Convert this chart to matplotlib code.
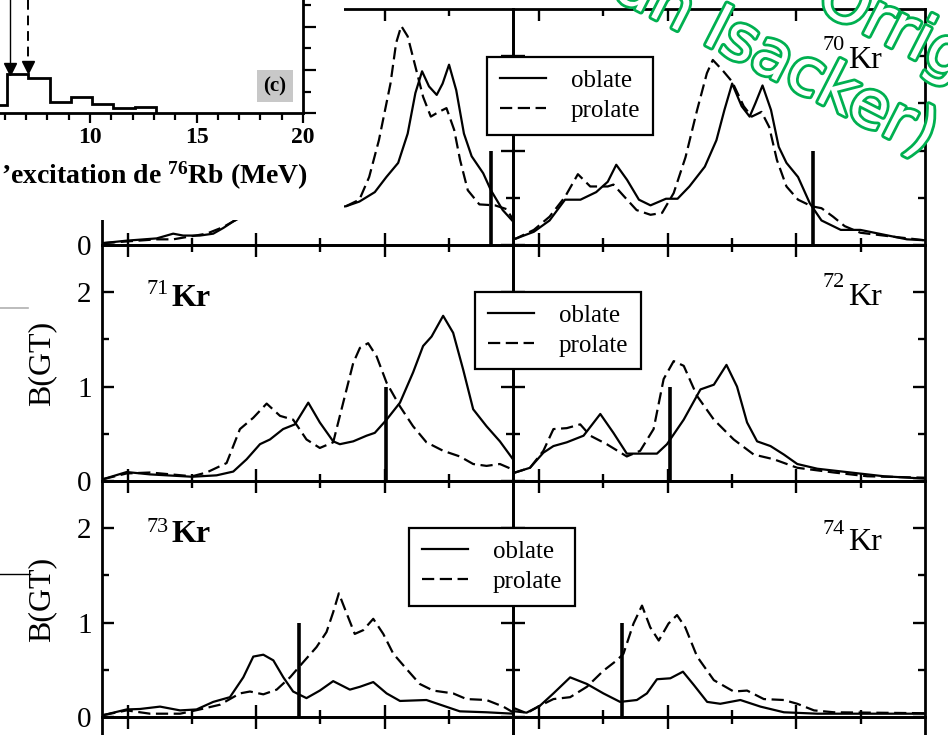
import matplotlib
matplotlib.use("Agg")
import matplotlib.pyplot as plt
from matplotlib.patches import Rectangle
from matplotlib.lines import Line2D
from matplotlib.ticker import FixedLocator
import matplotlib.patheffects as pe

plt.rcParams['font.family'] = ['Liberation Serif', 'DejaVu Serif']
plt.rcParams['mathtext.fontset'] = 'custom'
plt.rcParams['mathtext.rm'] = 'Liberation Serif:bold'
plt.rcParams['mathtext.it'] = 'Liberation Serif:bold:italic'
plt.rcParams['mathtext.bf'] = 'Liberation Serif:bold'

# ---------------- data ----------------
# top-left panel (label hidden by the pasted inset)
tl_x_obl = [-0.96, -0.04, 1.13, 1.77, 2.16, 2.81, 3.33, 3.72, 4.11, 4.6, 5.5, 6.5, 7.5, 8.0, 8.49,
            9.02, 9.62, 10.07, 10.53, 10.9, 11.2, 11.46, 11.73, 12.03, 12.26, 12.51, 12.79, 13.09,
            13.39, 13.84, 14.14, 14.6, 15.0]
tl_y_obl = [0.02, 0.046, 0.07, 0.12, 0.10, 0.10, 0.12, 0.18, 0.25, 0.32, 0.36, 0.35, 0.38, 0.40, 0.41,
            0.46, 0.56, 0.72, 0.87, 1.18, 1.61, 1.84, 1.68, 1.59, 1.71, 1.91, 1.64, 1.18,
            0.94, 0.76, 0.58, 0.37, 0.25]
tl_x_pro = [-0.96, 1.13, 1.77, 2.42, 3.07, 3.72, 4.17, 4.6, 5.5, 6.5, 7.5, 8.0, 8.49, 9.02, 9.4,
            9.78, 10.23, 10.45, 10.65, 10.9, 11.2, 11.5, 11.8, 12.11, 12.41, 12.71, 12.94, 13.24,
            13.69, 14.3, 14.75, 15.0]
tl_y_pro = [0.02, 0.06, 0.06, 0.09, 0.12, 0.19, 0.26, 0.33, 0.37, 0.36, 0.38, 0.40, 0.41, 0.48, 0.72,
            1.11, 1.71, 2.14, 2.32, 2.21, 1.89, 1.57, 1.36, 1.41, 1.45, 1.22, 0.90, 0.58,
            0.43, 0.42, 0.38, 0.27]

# 70Kr
kr70_x_obl = [-1.0, -0.87, -0.19, 0.42, 1.02, 1.62, 2.23, 2.68, 3.01, 3.43, 3.89, 4.34, 4.94, 5.39,
              5.85, 6.45, 6.9, 7.21, 7.51, 7.88, 8.19, 8.41, 8.69, 9.02, 9.32, 9.62, 10.07, 10.53,
              10.98, 11.73, 12.49, 13.39, 14.3, 15.0]
kr70_y_obl = [0.06, 0.07, 0.14, 0.26, 0.48, 0.48, 0.56, 0.67, 0.85, 0.69, 0.48, 0.42, 0.49, 0.49,
              0.62, 0.83, 1.11, 1.43, 1.71, 1.47, 1.36, 1.50, 1.69, 1.43, 1.04, 0.87, 0.72, 0.44,
              0.26, 0.16, 0.16, 0.11, 0.06, 0.05]
kr70_x_pro = [-1.0, -0.87, -0.19, 0.42, 1.02, 1.52, 2.0, 2.68, 2.9, 3.33, 3.8, 4.34, 4.79, 5.24,
              5.7, 6.15, 6.53, 6.76, 7.14, 7.51, 7.96, 8.27, 8.65, 8.95, 9.25, 9.62, 10.07, 10.6,
              10.98, 11.43, 11.88, 12.49, 13.09, 13.69, 15.0]
kr70_y_pro = [0.06, 0.07, 0.16, 0.30, 0.51, 0.75, 0.62, 0.62, 0.64, 0.51, 0.37, 0.32, 0.34, 0.55,
              0.93, 1.43, 1.82, 1.96, 1.85, 1.73, 1.47, 1.36, 1.41, 1.25, 0.90, 0.62, 0.48, 0.41,
              0.39, 0.30, 0.20, 0.13, 0.11, 0.09, 0.05]

# 71Kr
kr71_x_obl = [-0.95, -0.04, 0.87, 2.51, 3.46, 4.11, 4.63, 5.15, 5.54, 6.05, 6.51, 7.03, 7.48, 8.0,
              8.26, 8.78, 9.3, 9.62, 10.08, 10.6, 11.11, 11.5, 11.83, 12.28, 12.67, 13.06, 13.45,
              13.97, 14.49, 15.0]
kr71_y_obl = [0.02, 0.095, 0.07, 0.045, 0.06, 0.10, 0.23, 0.39, 0.44, 0.55, 0.60, 0.83, 0.62, 0.42,
              0.39, 0.42, 0.48, 0.51, 0.65, 0.83, 1.15, 1.43, 1.53, 1.75, 1.57, 1.18, 0.76,
              0.58, 0.42, 0.23]
kr71_x_pro = [-0.95, -0.04, 0.87, 2.51, 3.07, 3.85, 4.37, 4.89, 5.41, 5.93, 6.44, 6.96, 7.48, 8.0,
              8.39, 8.78, 9.04, 9.36, 9.69, 10.08, 10.6, 11.11, 11.63, 12.28, 12.93, 13.45, 13.97,
              14.49, 15.0]
kr71_y_pro = [0.02, 0.08, 0.09, 0.05, 0.09, 0.19, 0.55, 0.67, 0.82, 0.69, 0.65, 0.44, 0.35, 0.41,
              0.83, 1.25, 1.41, 1.46, 1.32, 1.04, 0.79, 0.58, 0.41, 0.32, 0.26, 0.18, 0.16,
              0.18, 0.12]

# 72Kr
kr72_x_obl = [-1.0, -0.92, -0.34, 0.18, 0.57, 1.09, 1.74, 2.39, 2.9, 3.42, 3.94, 4.59, 4.98, 5.63,
              6.28, 6.8, 7.29, 7.7, 8.09, 8.48, 9.0, 9.52, 10.04, 10.82, 12.11, 13.41, 15.0]
kr72_y_obl = [0.08, 0.09, 0.14, 0.30, 0.37, 0.41, 0.48, 0.71, 0.51, 0.29, 0.29, 0.29, 0.39, 0.65,
              0.97, 1.02, 1.23, 1.00, 0.62, 0.42, 0.37, 0.28, 0.18, 0.13, 0.09, 0.05, 0.025]
kr72_x_pro = [-1.0, -0.92, -0.34, 0.18, 0.57, 1.09, 1.61, 2.0, 2.64, 3.42, 3.94, 4.46, 4.85, 5.24,
              5.63, 6.15, 6.8, 7.57, 8.35, 9.13, 10.04, 11.46, 12.76, 15.0]
kr72_y_pro = [0.08, 0.09, 0.14, 0.32, 0.55, 0.56, 0.60, 0.48, 0.39, 0.26, 0.32, 0.55, 1.08, 1.27,
              1.22, 0.90, 0.65, 0.44, 0.28, 0.23, 0.14, 0.09, 0.05, 0.035]

# 73Kr
kr73_x_obl = [-0.95, -0.04, 0.48, 1.26, 2.04, 2.68, 3.33, 3.98, 4.5, 4.89, 5.28, 5.67, 6.06, 6.44,
              6.96, 7.48, 8.0, 8.65, 9.04, 9.56, 10.08, 10.6, 11.63, 12.28, 12.93, 13.97, 15.0]
kr73_y_obl = [0.02, 0.08, 0.085, 0.11, 0.07, 0.08, 0.16, 0.21, 0.42, 0.64, 0.66, 0.60, 0.42, 0.27,
              0.20, 0.28, 0.38, 0.29, 0.32, 0.37, 0.25, 0.17, 0.18, 0.12, 0.06, 0.05, 0.035]
kr73_x_pro = [-0.95, -0.04, 0.87, 2.04, 2.81, 3.59, 4.37, 4.76, 5.28, 5.8, 6.32, 6.83, 7.35, 7.74,
              8.0, 8.22, 8.52, 8.84, 9.17, 9.56, 9.95, 10.34, 10.85, 11.37, 11.89, 12.67, 13.19,
              13.97, 14.62, 15.0]
kr73_y_pro = [0.02, 0.07, 0.035, 0.035, 0.08, 0.13, 0.25, 0.27, 0.24, 0.29, 0.42, 0.58, 0.74, 0.90,
              1.11, 1.31, 1.10, 0.88, 0.92, 1.04, 0.88, 0.67, 0.51, 0.35, 0.28, 0.25, 0.19,
              0.18, 0.11, 0.05]

# 74Kr
kr74_x_obl = [-1.0, -0.92, -0.47, 0.05, 0.57, 1.22, 1.87, 2.51, 3.16, 3.81, 4.2, 4.59, 5.11, 5.6,
              6.02, 6.54, 7.05, 7.83, 8.61, 9.52, 10.82, 15.0]
kr74_y_obl = [0.05, 0.06, 0.046, 0.12, 0.25, 0.42, 0.35, 0.25, 0.16, 0.18, 0.25, 0.40, 0.41, 0.48,
              0.34, 0.16, 0.14, 0.18, 0.11, 0.05, 0.035, 0.035]
kr74_x_pro = [-1.0, -0.92, -0.47, 0.05, 0.57, 1.22, 1.87, 2.51, 3.03, 3.29, 3.68, 4.01, 4.33, 4.66,
              5.04, 5.37, 5.69, 6.15, 6.8, 7.57, 8.09, 8.74, 9.52, 10.04, 10.69, 11.46, 15.0]
kr74_y_pro = [0.09, 0.09, 0.04, 0.12, 0.19, 0.21, 0.32, 0.49, 0.60, 0.67, 0.99, 1.18, 0.95, 0.81,
              0.99, 1.08, 0.95, 0.64, 0.39, 0.27, 0.28, 0.19, 0.18, 0.14, 0.07, 0.05, 0.04]

# vertical bars (Q values) and their heights
q_values = [14.15, 10.65, 10.05, 5.1, 6.67, 3.22]
q_heights = [1.0, 1.0, 1.0, 1.0, 1.0, 1.0]

# nuclei labels (top-left one hidden)
mass_numbers = [None, "70", "71", "72", "73", "74"]

legend_labels = ["oblate", "prolate"]
y_tick_labels = ["0", "1", "2"]

# pasted inset (c): histogram vs excitation energy of 76Rb
hist_edges = [5.0, 6.1, 7.1, 8.1, 9.1, 10.1, 11.1, 12.1, 13.1]
hist_vals = [0.19, 0.91, 0.81, 0.26, 0.38, 0.21, 0.12, 0.15]
arrow_x = [6.23, 7.08]
arrow_tip = [0.95, 1.0]
inset_xticks = [10, 15, 20]

# ---------------- figure ----------------
W, H = 948, 735
fig = plt.figure(figsize=(W / 100, H / 100), dpi=100)


def fx(px):
    return px / W


def fy(py):
    return 1 - py / H


def add_panel(x0, y0, x1, y1, ticklabels, ylabel):
    ax = fig.add_axes([fx(x0), fy(y1), (x1 - x0) / W, (y1 - y0) / H])
    ax.set_xlim(-1, 15)
    ax.set_ylim(0, 2.5)
    ax.xaxis.set_major_locator(FixedLocator([0, 5, 10]))
    ax.xaxis.set_minor_locator(FixedLocator([2.5, 7.5, 12.5]))
    ax.yaxis.set_major_locator(FixedLocator([0, 1, 2]))
    ax.yaxis.set_minor_locator(FixedLocator([0.5, 1.5]))
    ax.yaxis.set_ticklabels(ticklabels)
    ax.tick_params(which='both', direction='in', top=True, right=True, width=1.7,
                   labelbottom=False, labelleft=bool(ticklabels), labelsize=21, pad=7.5)
    ax.tick_params(which='major', length=8.5)
    ax.tick_params(which='minor', length=5)
    for s in ax.spines.values():
        s.set_linewidth(2.0)
    ax.patch.set_alpha(0)
    if ylabel:
        ax.set_ylabel("B(GT)", fontsize=23)
        ax.yaxis.set_label_coords(-0.112, 0.5)
    return ax


cols = [(102, 513), (513, 925)]
rows = [(9, 245), (245, 481), (481, 717), (717, 953)]

series = [
    (tl_x_obl, tl_y_obl, tl_x_pro, tl_y_pro),
    (kr70_x_obl, kr70_y_obl, kr70_x_pro, kr70_y_pro),
    (kr71_x_obl, kr71_y_obl, kr71_x_pro, kr71_y_pro),
    (kr72_x_obl, kr72_y_obl, kr72_x_pro, kr72_y_pro),
    (kr73_x_obl, kr73_y_obl, kr73_x_pro, kr73_y_pro),
    (kr74_x_obl, kr74_y_obl, kr74_x_pro, kr74_y_pro),
]

DASH = (0, (5.5, 2.5))
LW = 1.6
for r in range(4):
    for c in range(2):
        if c == 0 and r == 0:
            tl, yl = [y_tick_labels[0], "", ""], False   # rest hidden under the inset
        elif c == 0 and r in (1, 2):
            tl, yl = y_tick_labels, True
        else:
            tl, yl = [], False                              # right column / off-page row
        ax = add_panel(cols[c][0], rows[r][0], cols[c][1], rows[r][1], tl, yl)
        i = r * 2 + c
        if i < len(series):
            xo, yo, xp, yp = series[i]
            ax.plot(xo, yo, color='k', lw=LW)
            ax.plot(xp, yp, color='k', lw=LW, ls=DASH)
            ax.plot([q_values[i], q_values[i]], [0, q_heights[i]], color='k', lw=2.6,
                    solid_capstyle='butt')

# nucleus labels
label_pos = {  # (superscript x, superscript baseline, Kr x, Kr baseline, bold)
    "70": (823, 50, 848, 68, False),
    "71": (147, 294, 172, 306, True),
    "72": (823, 287, 848, 305, False),
    "73": (147, 532, 172, 542, True),
    "74": (823, 534, 848, 550, False),
}
for m in mass_numbers:
    if m is None:
        continue
    sx, sy, kx, ky, bold = label_pos[m]
    fig.text(fx(sx), fy(sy), m, fontsize=16, ha='left', va='baseline')
    fig.text(fx(kx), fy(ky), "Kr", fontsize=23, ha='left', va='baseline',
             fontweight='bold' if bold else 'normal')

# legends
handles = [Line2D([], [], color='k', lw=LW), Line2D([], [], color='k', lw=LW, ls=DASH)]
for (lx, ly) in [(487, 57), (475, 292), (409, 528)]:
    leg = fig.legend(handles, legend_labels, loc='upper left',
                     bbox_to_anchor=(fx(lx), fy(ly)), bbox_transform=fig.transFigure,
                     borderaxespad=0, frameon=True, fancybox=False, edgecolor='black',
                     framealpha=1, fontsize=18, handlelength=1.85, handletextpad=1.0,
                     borderpad=0.5, labelspacing=0.3)
    leg.get_frame().set_linewidth(1.6)

# ---------------- pasted inset (c) ----------------
fig.add_artist(Rectangle((0, fy(220)), 344 / W, 220 / H, transform=fig.transFigure,
                         facecolor='white', edgecolor='none', zorder=1))

ax_in = fig.add_axes([0, fy(113), 303 / W, 113 / H], zorder=2)
ax_in.patch.set_alpha(0)
ax_in.set_xlim(5.77, 20)
ax_in.set_ylim(0, 113 / 43)
ax_in.spines['top'].set_visible(False)
ax_in.spines['left'].set_visible(False)
ax_in.spines['bottom'].set_linewidth(2)
ax_in.spines['right'].set_linewidth(2)
ax_in.xaxis.set_major_locator(FixedLocator(inset_xticks))
ax_in.xaxis.set_minor_locator(FixedLocator(list(range(6, 21))))
ax_in.yaxis.tick_right()
ax_in.yaxis.set_major_locator(FixedLocator([0, 1, 2]))
ax_in.yaxis.set_minor_locator(FixedLocator([0.5, 1.5, 2.5]))
ax_in.tick_params(axis='y', which='both', direction='out', labelright=False, width=1.6)
ax_in.tick_params(axis='y', which='major', length=9.5)
ax_in.tick_params(axis='y', which='minor', length=6)
ax_in.tick_params(axis='x', which='both', direction='out', width=1.6, labelsize=17, pad=3)
ax_in.tick_params(axis='x', which='major', length=7)
ax_in.tick_params(axis='x', which='minor', length=5)
for t in ax_in.get_xticklabels():
    t.set_fontweight('bold')
ax_in.stairs(hist_vals, hist_edges, color='k', lw=2, baseline=0)
ytop = 113 / 43
ax_in.plot([arrow_x[0]] * 2, [ytop, arrow_tip[0] + 0.12], color='k', lw=1.0)
ax_in.plot([arrow_x[1]] * 2, [ytop, arrow_tip[1] + 0.12], color='k', lw=1.4, ls=(0, (5, 3)))
ax_in.plot(arrow_x, [a + 0.08 for a in arrow_tip], ls='none', marker='v', ms=8, color='k')

fig.text(fx(308), fy(184), "’excitation de $^{76}$Rb (MeV)", ha='right',
         va='baseline', fontsize=20, fontweight='bold', zorder=4)
fig.text(fx(275), fy(86), "(c)", ha='center', va='center', fontsize=15, fontweight='bold',
         zorder=4, bbox=dict(boxstyle='square,pad=0.3', facecolor='#c8c8c8', edgecolor='none'))

# stray edge lines from the underlying page
fig.add_artist(Line2D([0, fx(28)], [fy(308), fy(308)], color='#b0b0b0', lw=1.2, zorder=2))
fig.add_artist(Line2D([0, fx(30)], [fy(574), fy(574)], color='k', lw=1.0, zorder=2))

# green outlined watermark
wm_kw = dict(fontsize=46, family='DejaVu Sans', color='white', rotation=-27,
             rotation_mode='anchor', zorder=10,
             path_effects=[pe.Stroke(linewidth=4, foreground='#00b050'), pe.Normal()])
fig.text(fx(924), fy(156), "(Van Isacker)", ha='right', va='baseline', **wm_kw)
fig.text(fx(814), fy(8), "Orrigo", ha='left', va='baseline', **wm_kw)

fig.savefig("out.png", dpi=100)
